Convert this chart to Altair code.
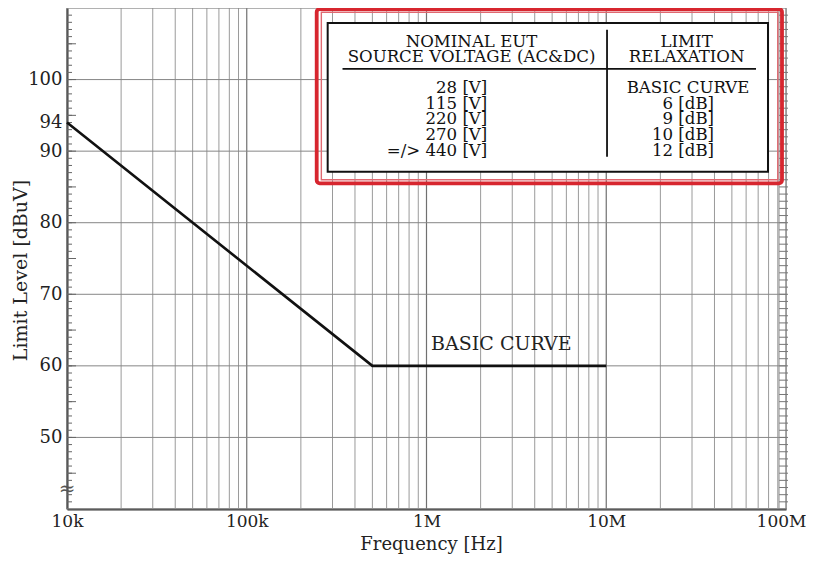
import altair as alt
import pandas as pd

# ---- data -------------------------------------------------------------
freq_hz = [1e4, 5e5, 1e7]
limit_dbuv = [94, 60, 60]

x_tick_vals = [1e4, 1e5, 1e6, 1e7, 1e8]
x_tick_labels = ["10k", "100k", "1M", "10M", "100M"]
y_label_vals = [50, 60, 70, 80, 90, 94, 100]
y_grid_vals = [40, 50, 60, 70, 80, 90, 100, 110]
decades = [1e4, 1e5, 1e6, 1e7]
multipliers = [2, 3, 4, 5, 6, 7, 8, 9]
y_minor_ticks = list(range(41, 110))

header_left = ["NOMINAL EUT", "SOURCE VOLTAGE (AC&DC)"]
header_right = ["LIMIT", "RELAXATION"]
voltage_rows = ["28 [V]", "115 [V]", "220 [V]", "270 [V]", "=/> 440 [V]"]
relax_rows = ["BASIC CURVE", "6 [dB]", "9 [dB]", "10 [dB]", "12 [dB]"]

# ---- annotation placement (data units) ----------------------------------
header_levels = [105.2, 103.1]
row_levels = [98.85, 96.65, 94.45, 92.25, 90.05]
W, H = 719, 501
FONT = "DejaVu Serif"
TFS = 16.6

XS = alt.Scale(type="log", domain=[1e4, 1e8], nice=False)
YS = alt.Scale(domain=[40, 110], nice=False, zero=False)

label_expr = "{" + ",".join(
    f"'{int(v)}':'{l}'" for v, l in zip(x_tick_vals, x_tick_labels)) + "}[datum.value]"

X_AX = alt.Axis(values=x_tick_vals, labelExpr=label_expr, grid=False,
                ticks=False, domainColor="#333", domainWidth=2,
                labelFont=FONT, labelFontSize=17, labelColor="#222",
                labelPadding=4, labelFlush=False, labelOverlap=False,
                labelOffset={"condition": {"test": "datum.value >= 50000000", "value": -5},
                             "value": 0},
                titleFont=FONT, titleFontSize=18, titleFontWeight="normal",
                titleColor="#222", titleX=364, titleY=44, titleBaseline="bottom")
Y_AX = alt.Axis(values=y_label_vals, grid=False, ticks=False,
                domainColor="#333", domainWidth=2,
                labelFont=FONT, labelFontSize=18, labelColor="#222",
                labelPadding=5, labelOverlap=False,
                titleFont=FONT, titleFontSize=19, titleFontWeight="normal",
                titleColor="#222", titleAngle=270, titleX=-47, titleY=262,
                titleAlign="center", titleBaseline="middle")


def X(field):
    return alt.X(field, type="quantitative", scale=XS, axis=X_AX, title="Frequency [Hz]")


def Y(field):
    return alt.Y(field, type="quantitative", scale=YS, axis=Y_AX, title="Limit Level [dBuV]")


grid_minor = pd.DataFrame({"f": [d * m for d in decades for m in multipliers]})
grid_major = pd.DataFrame({"f": x_tick_vals})
grid_h = pd.DataFrame({"y": y_grid_vals})
ticks_all = pd.DataFrame({"y": y_minor_ticks})
ticks_five = pd.DataFrame({"y": [v for v in y_minor_ticks if v % 5 == 0]})
curve = pd.DataFrame({"f": freq_hz, "y": limit_dbuv})

l_vgrid = alt.Chart(grid_minor).mark_rule(color="#9a9a9a", strokeWidth=1).encode(x=X("f"))
l_vgrid2 = alt.Chart(grid_major).mark_rule(color="#707070", strokeWidth=1.2).encode(x=X("f"))
l_hgrid = alt.Chart(grid_h).mark_rule(color="#868686", strokeWidth=1).encode(y=Y("y"))

l_tick_l = alt.Chart(ticks_all).mark_rule(color="#666", strokeWidth=1).encode(
    y=Y("y"), x=alt.value(0), x2=alt.value(5))
l_tick_l5 = alt.Chart(ticks_five).mark_rule(color="#666", strokeWidth=1).encode(
    y=Y("y"), x=alt.value(0), x2=alt.value(9))
l_tick_r = alt.Chart(ticks_all).mark_rule(color="#777", strokeWidth=1).encode(
    y=Y("y"), x=alt.value(W - 7), x2=alt.value(W + 2))
l_inner_r = alt.Chart(grid_major.head(1)).mark_rule(color="#888", strokeWidth=1).encode(
    x=alt.value(W - 7), y=alt.value(0), y2=alt.value(H))

l_curve = alt.Chart(curve).mark_line(color="#111", strokeWidth=2.6).encode(
    x=X("f"), y=Y("y"))

basic_lbl = pd.DataFrame({"f": [2.61e6], "y": [63.0], "t": ["BASIC CURVE"]})
l_basic = alt.Chart(basic_lbl).mark_text(font=FONT, fontSize=19, color="#222",
                                         baseline="middle").encode(
    x=X("f"), y=Y("y"), text="t:N")

squig = pd.DataFrame({"f": [1e4], "y": [42.8], "t": ["≈"]})
l_squig = alt.Chart(squig).mark_text(font=FONT, fontSize=20, color="#555",
                                     baseline="middle").encode(
    x=X("f"), y=Y("y"), text="t:N")

# table box
box_white = pd.DataFrame({"x1": [2.82e5], "x2": [7.94e7], "y1": [87.13], "y2": [107.91]})
l_box = alt.Chart(box_white).mark_rect(fill="white", stroke="#111", strokeWidth=2).encode(
    x=X("x1"), x2="x2", y=Y("y1"), y2="y2")
red_outer = pd.DataFrame({"x1": [2.45e5], "x2": [9.5e7], "y1": [85.5], "y2": [109.85]})
l_red = alt.Chart(red_outer).mark_rect(fill=None, stroke="#d7262f", strokeWidth=3.8,
                                       cornerRadius=3).encode(
    x=X("x1"), x2="x2", y=Y("y1"), y2="y2")
red_inner = pd.DataFrame({"x1": [2.6e5], "x2": [9.0e7], "y1": [86.0], "y2": [109.4]})
l_red2 = alt.Chart(red_inner).mark_rect(fill=None, stroke="#e06870", strokeWidth=1.4).encode(
    x=X("x1"), x2="x2", y=Y("y1"), y2="y2")

div_v = pd.DataFrame({"f": [1.01e7], "y1": [89.2], "y2": [106.95]})
l_div = alt.Chart(div_v).mark_rule(color="#111", strokeWidth=1.8).encode(
    x=X("f"), y=Y("y1"), y2="y2")
div_h = pd.DataFrame({"x1": [3.41e5], "x2": [6.81e7], "y": [101.5]})
l_divh = alt.Chart(div_h).mark_rule(color="#111", strokeWidth=1.8).encode(
    x=X("x1"), x2="x2", y=Y("y"))

hdr = pd.DataFrame({
    "f": [1.78e6, 1.78e6, 2.8e7, 2.8e7],
    "y": header_levels + header_levels,
    "t": header_left + header_right,
})
l_hdr = alt.Chart(hdr).mark_text(font=FONT, fontSize=TFS, color="#111",
                                 baseline="middle", align="center").encode(
    x=X("f"), y=Y("y"), text="t:N")

volt = pd.DataFrame({"f": [2.18e6] * 5, "y": row_levels, "t": voltage_rows})
l_volt = alt.Chart(volt).mark_text(font=FONT, fontSize=TFS, color="#111",
                                   baseline="middle", align="right").encode(
    x=X("f"), y=Y("y"), text="t:N")

rel_first = pd.DataFrame({"f": [2.85e7], "y": row_levels[:1], "t": relax_rows[:1]})
l_rel1 = alt.Chart(rel_first).mark_text(font=FONT, fontSize=TFS, color="#111",
                                        baseline="middle", align="center").encode(
    x=X("f"), y=Y("y"), text="t:N")
rel_rest = pd.DataFrame({"f": [3.98e7] * 4, "y": row_levels[1:], "t": relax_rows[1:]})
l_rel = alt.Chart(rel_rest).mark_text(font=FONT, fontSize=TFS, color="#111",
                                      baseline="middle", align="right").encode(
    x=X("f"), y=Y("y"), text="t:N")

chart = alt.layer(
    l_vgrid, l_vgrid2, l_hgrid, l_tick_l, l_tick_l5, l_tick_r, l_inner_r,
    l_curve, l_basic, l_squig,
    l_box, l_div, l_divh, l_red, l_red2, l_hdr, l_volt, l_rel1, l_rel,
).properties(
    width=W, height=H,
    autosize=alt.AutoSizeParams(type="none"),
    padding={"left": 59, "top": 0, "right": 20, "bottom": 45},
).configure_view(stroke="#888", strokeWidth=1).configure(background="white")

chart.save("out.html", embed_options={"renderer": "svg", "actions": False})
